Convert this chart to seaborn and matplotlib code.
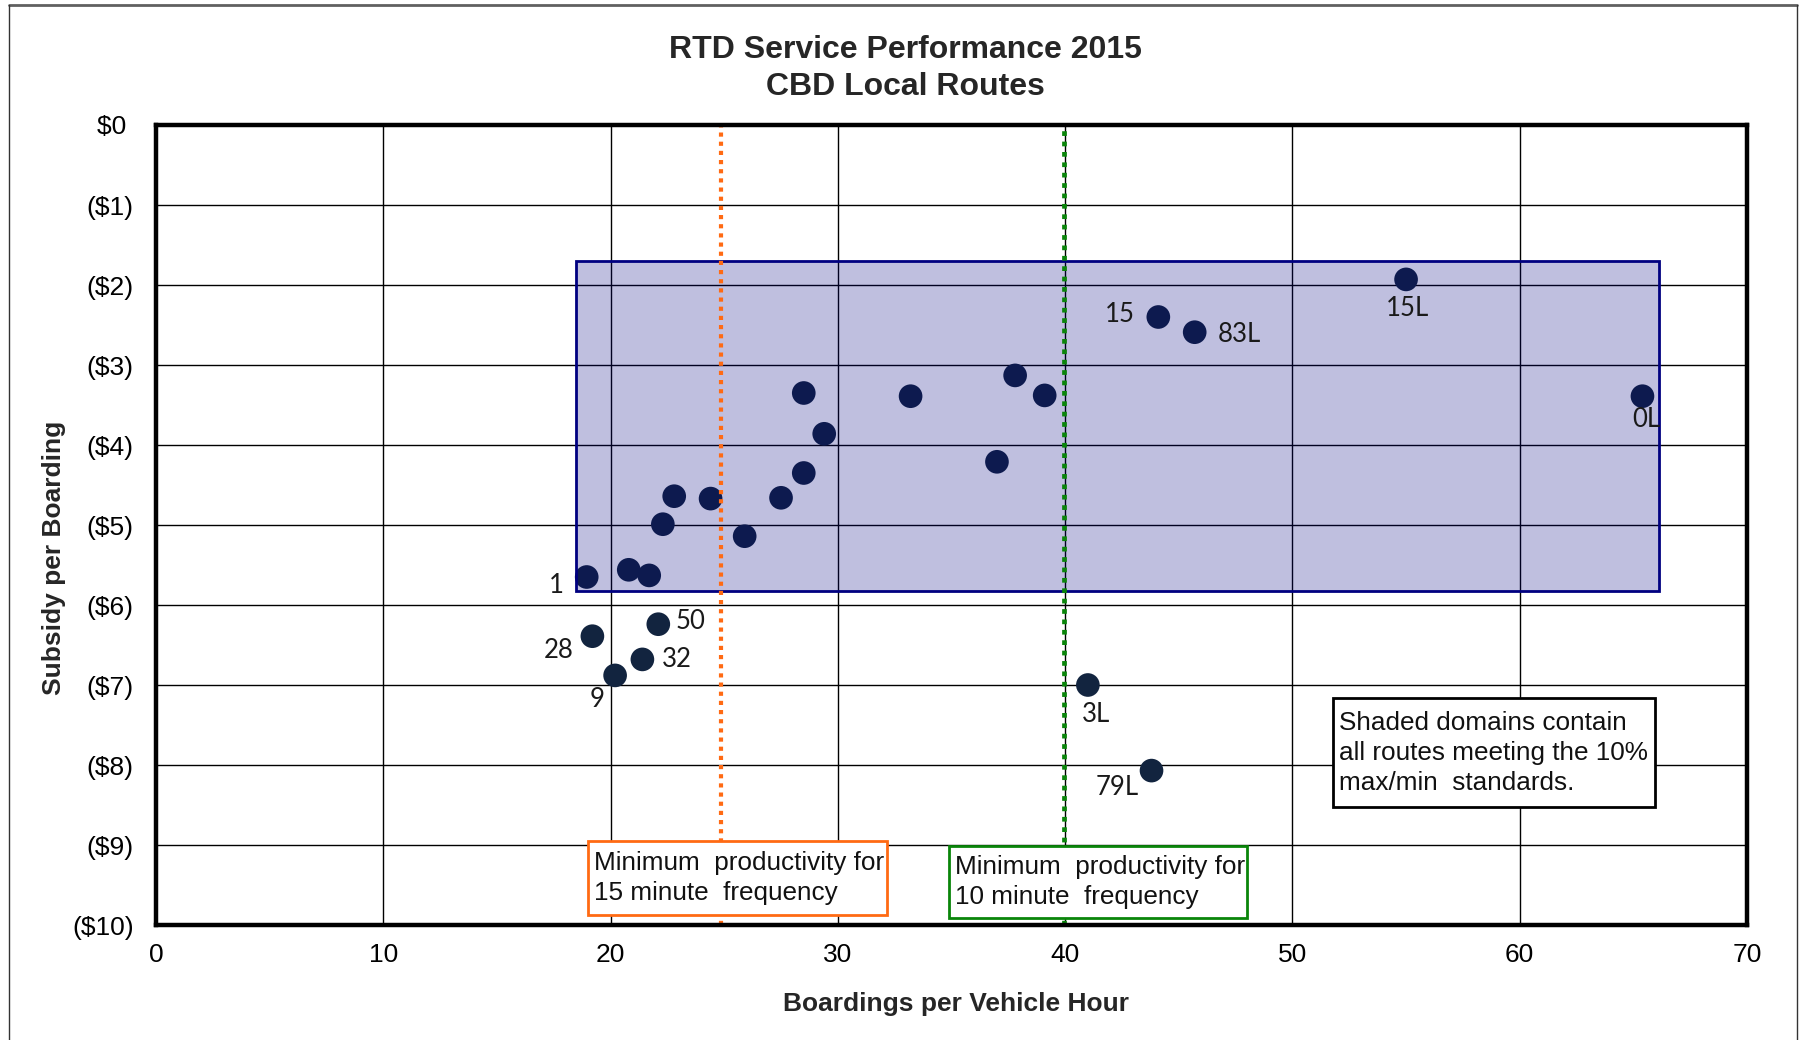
import matplotlib
matplotlib.use("Agg")
import matplotlib.pyplot as plt
from matplotlib.patches import Rectangle
from matplotlib.lines import Line2D
import seaborn as sns
import pandas as pd

# ---- data ----
boardings = [18.95, 20.8, 21.7, 19.2, 22.1, 21.4, 20.2, 22.3, 22.8, 24.4, 25.9,
             27.5, 28.5, 28.5, 29.4, 33.2, 37.0, 37.8, 39.1, 44.1, 45.7, 55.0,
             65.4, 41.0, 43.8]
subsidy = [-5.65, -5.56, -5.63, -6.39, -6.24, -6.68, -6.88, -4.99, -4.64, -4.67,
           -5.14, -4.66, -4.35, -3.35, -3.86, -3.39, -4.21, -3.13, -3.38, -2.40,
           -2.59, -1.93, -3.39, -7.00, -8.07]
route_labels = ["1", "", "", "28", "50", "32", "9", "", "", "", "", "", "", "", "",
                "", "", "", "", "15", "83L", "15L", "0L", "3L", "79L"]
# label offsets (points)
label_dx = [-22, 0, 0, -24, 23, 25, -13, 0, 0, 0, 0, 0, 0, 0, 0, 0, 0, 0, 0, -28, 32, 1, 3, 6, -25]
label_dy = [-6, 0, 0, -10, 2, 0, -17, 0, 0, 0, 0, 0, 0, 0, 0, 0, 0, 0, 0, 2, -2, -21, -17, -21, -12]

standard_x = [18.5, 66.15]      # shaded domain extent, boardings
standard_y = [-5.82, -1.70]     # shaded domain extent, subsidy
min_15 = 24.88
min_10 = 39.93
x_ticks = [0, 10, 20, 30, 40, 50, 60, 70]
y_ticks = [0, -1, -2, -3, -4, -5, -6, -7, -8, -9, -10]
y_tick_labels = ["$0 ", "($1)", "($2)", "($3)", "($4)", "($5)", "($6)", "($7)",
                 "($8)", "($9)", "($10)"]

df = pd.DataFrame({"boardings": boardings, "subsidy": subsidy})

sns.set_style("white")
plt.rcParams["font.family"] = ["Liberation Sans", "DejaVu Sans"]

fig = plt.figure(figsize=(18.01, 10.40), dpi=100)
ax = fig.add_axes([156 / 1801, 1 - 925 / 1040, (1747 - 156) / 1801, (925 - 125) / 1040])

ax.set_xlim(0, 70)
ax.set_ylim(-10, 0)
ax.set_xticks(x_ticks)
ax.set_yticks(y_ticks)
ax.set_yticklabels(y_tick_labels)
ax.grid(True, color="black", linewidth=1.0, zorder=0)
ax.set_axisbelow(True)
ax.tick_params(axis="both", labelsize=19, length=4, width=1, direction="out",
               colors="black")
ax.tick_params(axis="y", pad=12)
ax.tick_params(axis="x", pad=9)
for s in ax.spines.values():
    s.set_linewidth(3.2)
    s.set_color("black")
    s.set_zorder(6)

sns.scatterplot(data=df, x="boardings", y="subsidy", ax=ax, s=290,
                color="#12243f", edgecolor="none", zorder=3, legend=False)

# shaded standards domain (drawn over points -> tint)
ax.add_patch(Rectangle((standard_x[0], standard_y[0]), standard_x[1] - standard_x[0],
                       standard_y[1] - standard_y[0], facecolor=(0, 0, 0.5, 0.25),
                       edgecolor=(0, 0, 0.5, 1), linewidth=2, zorder=4))

ax.axvline(min_15, color="#ff6a13", linestyle=(0, (1, 1.2)), linewidth=3, zorder=5)
ax.axvline(min_10, color="#0a850a", linestyle=(0, (1, 1.2)), linewidth=3.4, zorder=5)

for x, y, lab, dx, dy in zip(boardings, subsidy, route_labels, label_dx, label_dy):
    if lab:
        ax.annotate(lab, (x, y), xytext=(dx, dy), textcoords="offset points",
                    ha="center", va="center", fontsize=18.5,
                    family=["Lato", "DejaVu Sans"], color="#1a1a1a", zorder=7)

ax.set_xlabel("")
ax.set_ylabel("")

# annotation boxes
def box(x0, x1, y0, y1, ec, text, tx):
    ax.add_patch(Rectangle((x0, y0), x1 - x0, y1 - y0, facecolor="white",
                           edgecolor=ec, linewidth=2, zorder=8))
    ax.text(tx, (y0 + y1) / 2, text, ha="left", va="center", fontsize=18.8,
            color="#111111", linespacing=1.32, zorder=9)

box(19.0, 32.15, -9.87, -8.95, "#ff6a13", "Minimum  productivity for\n15 minute  frequency", 19.25)
box(34.9, 48.0, -9.91, -9.01, "#0a850a", "Minimum  productivity for\n10 minute  frequency", 35.15)
box(51.8, 65.95, -8.53, -7.16, "black", "Shaded domains contain\nall routes meeting the 10%\nmax/min  standards.", 52.05)

# titles and axis labels
fig.text(0.503, 0.934, "RTD Service Performance 2015\nCBD Local Routes", ha="center",
         va="center", fontsize=23, fontweight="bold", linespacing=1.3)
fig.text(0.531, 0.035, "Boardings per Vehicle Hour", ha="center", va="center",
         fontsize=19, fontweight="bold")
fig.text(0.030, 0.464, "Subsidy per Boarding", ha="center", va="center",
         fontsize=19, fontweight="bold", rotation=90)

# outer frame
fig.add_artist(Line2D([9 / 1801, 1797 / 1801], [1 - 5 / 1040, 1 - 5 / 1040],
                      color="#606060", linewidth=2, transform=fig.transFigure))
fig.add_artist(Line2D([9 / 1801, 9 / 1801], [0, 1 - 5 / 1040],
                      color="#333333", linewidth=1, transform=fig.transFigure))
fig.add_artist(Line2D([1797 / 1801, 1797 / 1801], [0, 1 - 5 / 1040],
                      color="#333333", linewidth=1, transform=fig.transFigure))

fig.savefig("out.png", dpi=100)
